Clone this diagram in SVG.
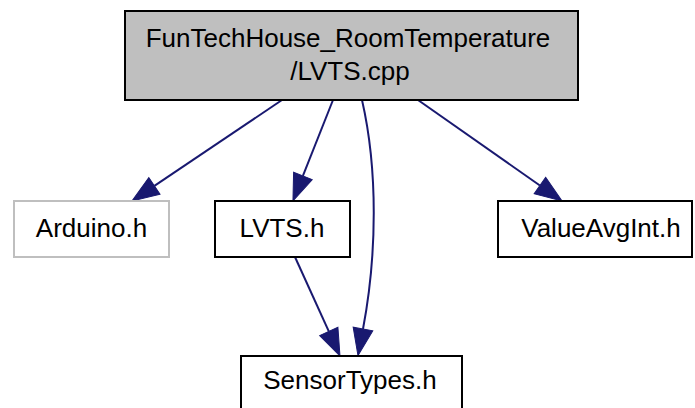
<svg xmlns="http://www.w3.org/2000/svg" width="695" height="408" viewBox="0 0 695 408">
<style>
.box{fill:#ffffff;stroke:#000000;stroke-width:2}
.root{fill:#bfbfbf;stroke:#000000;stroke-width:2}
.ext{fill:#ffffff;stroke:#bfbfbf;stroke-width:2}
.lbl{font-family:"Liberation Sans",Arial,sans-serif;font-size:26px;fill:#000000;text-anchor:middle}
.edge{fill:none;stroke:#191970;stroke-width:2}
</style>
<defs>
<marker id="arr" markerUnits="userSpaceOnUse" markerWidth="28" markerHeight="22" viewBox="0 -11 28 22" refX="0" refY="0" orient="auto" overflow="visible">
<path d="M0,-10 L27,0 L0,10 z" fill="#191970" stroke="#191970" stroke-width="1"/>
</marker>
</defs>
<rect width="695" height="408" fill="#ffffff"/>
<g id="connectors">
<path class="edge" d="M282,100 L154.4,185.9" marker-end="url(#arr)"/>
<path class="edge" d="M333,100 L302.9,175.9" marker-end="url(#arr)"/>
<path class="edge" d="M362,100 C378,170 377,255 363,329" marker-end="url(#arr)"/>
<path class="edge" d="M418,100 L539.9,185.5" marker-end="url(#arr)"/>
<path class="edge" d="M295,257 L328.8,331.4" marker-end="url(#arr)"/>
</g>
<g id="node-root">
<rect class="root" x="125" y="11" width="453" height="89"/>
<text class="lbl" x="348" y="47">FunTechHouse_RoomTemperature</text>
<text class="lbl" x="350" y="80">/LVTS.cpp</text>
</g>
<g id="node-arduino">
<rect class="ext" x="14" y="201" width="155" height="56"/>
<text class="lbl" x="91.5" y="237">Arduino.h</text>
</g>
<g id="node-lvts">
<rect class="box" x="215" y="201" width="135" height="56"/>
<text class="lbl" x="282" y="237">LVTS.h</text>
</g>
<g id="node-valueavgint">
<rect class="box" x="498" y="201" width="194" height="56"/>
<text class="lbl" x="601" y="237">ValueAvgInt.h</text>
</g>
<g id="node-sensortypes">
<rect class="box" x="241" y="356" width="221" height="56"/>
<text class="lbl" x="350" y="389">SensorTypes.h</text>
</g>
</svg>
